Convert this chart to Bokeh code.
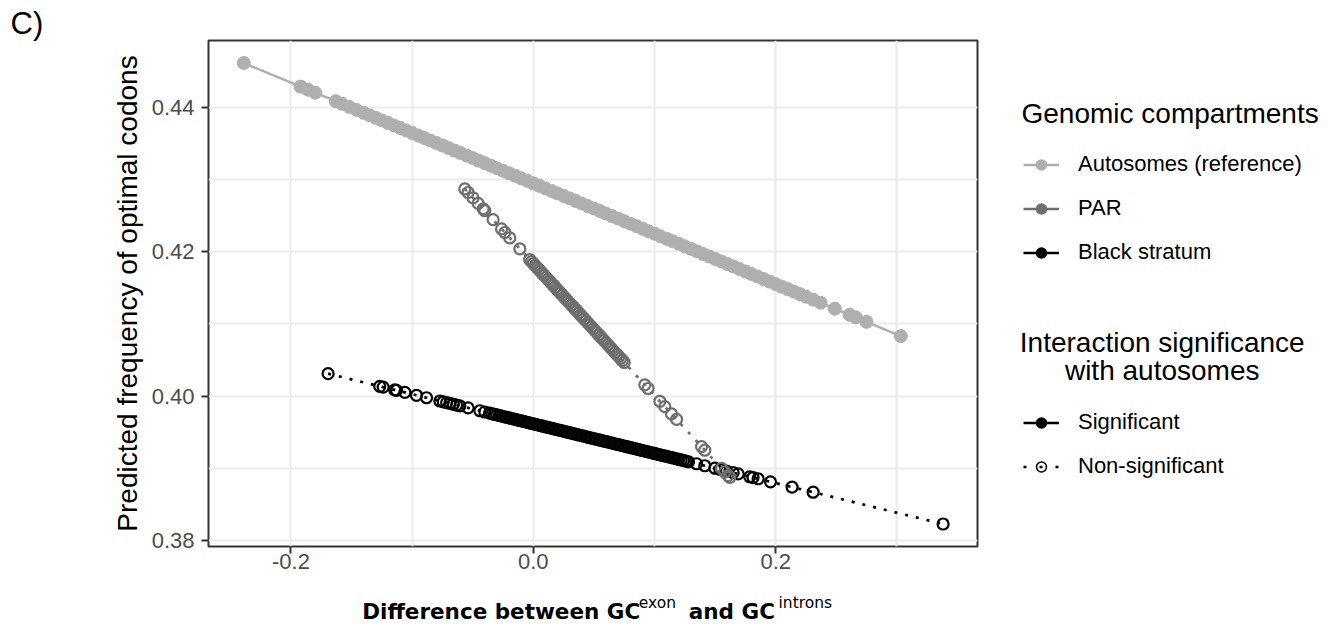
from bokeh.plotting import figure
from bokeh.layouts import row, column
from bokeh.models import Range1d, FixedTicker, PrintfTickFormatter, Label, Legend, LegendItem
from bokeh.embed import file_html
from bokeh.resources import INLINE

# ---------------- data ----------------
auto_x = [-0.2389, -0.192, -0.186, -0.180, -0.163, -0.158, -0.152, -0.146, -0.140, -0.135, -0.130,
          -0.125, -0.120, -0.115, -0.110, -0.105, -0.100, -0.095, -0.090, -0.085, -0.080,
          -0.075, -0.070, -0.065, -0.060, -0.055, -0.050, -0.045, -0.040, -0.035, -0.030,
          -0.025, -0.020, -0.015, -0.010, -0.005, 0.000, 0.005, 0.010, 0.015, 0.020,
          0.025, 0.030, 0.035, 0.040, 0.045, 0.050, 0.055, 0.060, 0.065, 0.070,
          0.075, 0.080, 0.085, 0.090, 0.095, 0.100, 0.105, 0.110, 0.115, 0.120,
          0.125, 0.130, 0.135, 0.140, 0.145, 0.150, 0.155, 0.160, 0.165, 0.170,
          0.175, 0.180, 0.185, 0.190, 0.195, 0.200, 0.205, 0.210, 0.215, 0.220,
          0.225, 0.231, 0.237, 0.2488, 0.261, 0.266, 0.2749, 0.3032]
auto_y = [0.44609, 0.44282, 0.44240, 0.44198, 0.44080, 0.44045, 0.44003, 0.43961, 0.43920, 0.43885, 0.43850,
          0.43815, 0.43780, 0.43745, 0.43711, 0.43676, 0.43641, 0.43606, 0.43571, 0.43536, 0.43502,
          0.43467, 0.43432, 0.43397, 0.43362, 0.43327, 0.43293, 0.43258, 0.43223, 0.43188, 0.43153,
          0.43118, 0.43083, 0.43049, 0.43014, 0.42979, 0.42944, 0.42909, 0.42874, 0.42839, 0.42805,
          0.42770, 0.42735, 0.42700, 0.42665, 0.42630, 0.42596, 0.42561, 0.42526, 0.42491, 0.42456,
          0.42421, 0.42386, 0.42352, 0.42317, 0.42282, 0.42247, 0.42212, 0.42177, 0.42143, 0.42108,
          0.42073, 0.42038, 0.42003, 0.41968, 0.41933, 0.41899, 0.41864, 0.41829, 0.41794, 0.41759,
          0.41724, 0.41690, 0.41655, 0.41620, 0.41585, 0.41550, 0.41515, 0.41481, 0.41446, 0.41411,
          0.41376, 0.41334, 0.41292, 0.41210, 0.41125, 0.41090, 0.41028, 0.40831]

par_x = [-0.0565, -0.0538, -0.0497, -0.0455, -0.0414, -0.0400, -0.0332, -0.0262, -0.0235, -0.0194, -0.0111,
         -0.003, -0.0015, 0.000, 0.0015, 0.003, 0.0045, 0.006, 0.0075, 0.009, 0.0105,
         0.012, 0.0135, 0.015, 0.0165, 0.018, 0.0195, 0.021, 0.0225, 0.024, 0.0255,
         0.027, 0.0285, 0.030, 0.0315, 0.033, 0.0345, 0.036, 0.0375, 0.039, 0.0405,
         0.042, 0.0435, 0.045, 0.0465, 0.048, 0.0495, 0.051, 0.0525, 0.054, 0.0555,
         0.057, 0.0585, 0.060, 0.0615, 0.063, 0.0645, 0.066, 0.0675, 0.069, 0.0705,
         0.072, 0.0735, 0.075,
         0.0920, 0.0947, 0.1044, 0.1085, 0.1140, 0.1182, 0.1388, 0.1415, 0.1553, 0.1580, 0.1607, 0.1621]
par_y = [0.42866, 0.42817, 0.42742, 0.42666, 0.42591, 0.42565, 0.42441, 0.42313, 0.42264, 0.42189, 0.42038,
         0.41890, 0.41862, 0.41835, 0.41808, 0.41780, 0.41753, 0.41725, 0.41698, 0.41671, 0.41643,
         0.41616, 0.41589, 0.41561, 0.41534, 0.41506, 0.41479, 0.41452, 0.41424, 0.41397, 0.41370,
         0.41342, 0.41315, 0.41287, 0.41260, 0.41233, 0.41205, 0.41178, 0.41151, 0.41123, 0.41096,
         0.41068, 0.41041, 0.41014, 0.40986, 0.40959, 0.40931, 0.40904, 0.40877, 0.40849, 0.40822,
         0.40795, 0.40767, 0.40740, 0.40712, 0.40685, 0.40658, 0.40630, 0.40603, 0.40576, 0.40548,
         0.40521, 0.40493, 0.40466,
         0.40156, 0.40106, 0.39929, 0.39855, 0.39754, 0.39678, 0.39302, 0.39252, 0.39000, 0.38951, 0.38902, 0.38876]

blk_x = [-0.1693, -0.1267, -0.1239, -0.1143, -0.1129, -0.1060, -0.0964, -0.0881, -0.0771, -0.0743,
         -0.0715, -0.0688, -0.0660, -0.0633, -0.0606, -0.0538, -0.0441, -0.040,
         -0.036, -0.034, -0.032, -0.030, -0.028, -0.026, -0.024, -0.022, -0.020, -0.018,
         -0.016, -0.014, -0.012, -0.010, -0.008, -0.006, -0.004, -0.002, 0.000, 0.002,
         0.004, 0.006, 0.008, 0.010, 0.012, 0.014, 0.016, 0.018, 0.020, 0.022,
         0.024, 0.026, 0.028, 0.030, 0.032, 0.034, 0.036, 0.038, 0.040, 0.042,
         0.044, 0.046, 0.048, 0.050, 0.052, 0.054, 0.056, 0.058, 0.060, 0.062,
         0.064, 0.066, 0.068, 0.070, 0.072, 0.074, 0.076, 0.078, 0.080, 0.082,
         0.084, 0.086, 0.088, 0.090, 0.092, 0.094, 0.096, 0.098, 0.100, 0.102,
         0.104, 0.106, 0.108, 0.110, 0.112, 0.114, 0.116, 0.118, 0.120, 0.122,
         0.124, 0.126, 0.128,
         0.1347, 0.1415, 0.1498, 0.1539, 0.1594, 0.1649, 0.1690, 0.1786, 0.1813, 0.1855,
         0.1957, 0.2135, 0.2309, 0.3381]
blk_y = [0.40311, 0.40136, 0.40125, 0.40086, 0.40080, 0.40052, 0.40012, 0.39978, 0.39933, 0.39922,
         0.39910, 0.39899, 0.39888, 0.39877, 0.39865, 0.39838, 0.39798, 0.39781,
         0.39765, 0.39756, 0.39748, 0.39740, 0.39732, 0.39724, 0.39715, 0.39707, 0.39699, 0.39691,
         0.39683, 0.39674, 0.39666, 0.39658, 0.39650, 0.39642, 0.39633, 0.39625, 0.39617, 0.39609,
         0.39601, 0.39592, 0.39584, 0.39576, 0.39568, 0.39560, 0.39551, 0.39543, 0.39535, 0.39527,
         0.39519, 0.39510, 0.39502, 0.39494, 0.39486, 0.39478, 0.39469, 0.39461, 0.39453, 0.39445,
         0.39437, 0.39428, 0.39420, 0.39412, 0.39404, 0.39396, 0.39387, 0.39379, 0.39371, 0.39363,
         0.39355, 0.39346, 0.39338, 0.39330, 0.39322, 0.39314, 0.39305, 0.39297, 0.39289, 0.39281,
         0.39273, 0.39264, 0.39256, 0.39248, 0.39240, 0.39232, 0.39224, 0.39215, 0.39207, 0.39199,
         0.39191, 0.39182, 0.39174, 0.39166, 0.39158, 0.39150, 0.39142, 0.39133, 0.39125, 0.39117,
         0.39109, 0.39100, 0.39092,
         0.39065, 0.39037, 0.39003, 0.38986, 0.38964, 0.38941, 0.38924, 0.38885, 0.38874, 0.38857,
         0.38815, 0.38742, 0.38671, 0.38231]

x_ticks = [-0.2, 0.0, 0.2]
x_minor = [-0.1, 0.1, 0.3]
y_ticks = [0.38, 0.40, 0.42, 0.44]
y_minor = [0.39, 0.41, 0.43]

compartments = ["Autosomes (reference)", "PAR", "Black stratum"]
significance = ["Significant", "Non-significant"]

AUTO = "#AFAFAF"
PARC = "#6E6E6E"
BLK = "#000000"
FONT = "Liberation Sans"
NAN = float("nan")


def blank(w, h):
    f = figure(width=w, height=h, x_range=Range1d(0, 1), y_range=Range1d(0, 1),
               output_backend="svg", toolbar_location=None,
               x_axis_type=None, y_axis_type=None, min_border=0)
    f.outline_line_color = None
    f.background_fill_color = "white"
    f.border_fill_color = "white"
    return f


def lab(fig, text, x, y, size, font=FONT, style="normal", align="left", color="#000000"):
    fig.add_layout(Label(x=x, y=y, x_units="screen", y_units="screen", text=text,
                         text_font=font, text_font_size=size, text_font_style=style,
                         text_align=align, text_baseline="alphabetic", text_color=color))


# ---------------- main plot ----------------
p = figure(width=885, height=584, x_range=Range1d(-0.2680, 0.3665), y_range=Range1d(0.3792, 0.4492),
           output_backend="svg", toolbar_location=None,
           min_border_left=108, min_border_right=8, min_border_top=40, min_border_bottom=38)
p.background_fill_color = "white"
p.border_fill_color = "white"
p.outline_line_color = "#333333"
p.outline_line_width = 2

p.xaxis.ticker = FixedTicker(ticks=x_ticks, minor_ticks=x_minor)
p.yaxis.ticker = FixedTicker(ticks=y_ticks, minor_ticks=y_minor)
p.xaxis.formatter = PrintfTickFormatter(format="%.1f")
p.yaxis.formatter = PrintfTickFormatter(format="%.2f")
for ax in (p.xaxis[0], p.yaxis[0]):
    ax.axis_line_color = None
    ax.major_tick_line_color = "#333333"
    ax.major_tick_line_width = 2
    ax.major_tick_out = 7
    ax.major_tick_in = 0
    ax.minor_tick_out = 0
    ax.minor_tick_in = 0
    ax.minor_tick_line_color = None
    ax.major_label_text_font = FONT
    ax.major_label_text_font_size = "22px"
    ax.major_label_text_color = "#4D4D4D"
p.xaxis.major_label_standoff = 0
p.yaxis.major_label_standoff = 7
p.yaxis.axis_label = "Predicted frequency of optimal codons"
p.yaxis.axis_label_text_font = FONT
p.yaxis.axis_label_text_font_size = "28px"
p.yaxis.axis_label_text_font_style = "normal"
p.yaxis.axis_label_text_color = "#000000"
p.yaxis.axis_label_standoff = 6

for g in (p.xgrid[0], p.ygrid[0]):
    g.grid_line_color = "#EBEBEB"
    g.grid_line_width = 2
    g.minor_grid_line_color = "#EBEBEB"
    g.minor_grid_line_width = 2

p.line(auto_x, auto_y, line_color=AUTO, line_width=2.5)
p.line(par_x, par_y, line_color=PARC, line_width=2.7, line_dash="3 8")
p.line(blk_x, blk_y, line_color=BLK, line_width=2.7, line_dash="3 8")
p.scatter(blk_x, blk_y, marker="circle", size=11, fill_color=None, line_color=BLK, line_width=2.2)
p.scatter(par_x, par_y, marker="circle", size=11, fill_color=None, line_color=PARC, line_width=2.2)
p.scatter(auto_x, auto_y, marker="circle", size=13, fill_color=AUTO, line_color=AUTO, line_width=1)

# ---------------- x axis title strip (frame aligned with the main frame) ----------------
bottom = blank(885, 40)
lab(bottom, "Difference between GC", 153.7, 13.5, "21.5px", font="DejaVu Sans", style="bold")
lab(bottom, "exon", 430.3, 22.0, "15.5px", font="DejaVu Sans")
lab(bottom, "and GC", 480.3, 13.5, "21.5px", font="DejaVu Sans", style="bold")
lab(bottom, "introns", 570.0, 22.0, "15.5px", font="DejaVu Sans")

# ---------------- panel tag strip ----------------
left = blank(100, 624)
lab(left, "C)", 10, 601.3, "31px")

# ---------------- legend panel ----------------
lg = blank(345, 624)


def key(color, dash="solid", filled=True):
    ln = lg.line([NAN], [NAN], line_color=color, line_width=2.5, line_dash=dash)
    sc = lg.scatter([NAN], [NAN], marker="circle", fill_color=color if filled else None,
                    line_color=color, line_width=1.6)
    return [ln, sc]


leg_common = dict(orientation="vertical", glyph_width=36, glyph_height=25, label_height=25,
                  padding=0, margin=0, label_standoff=19, label_text_font=FONT,
                  label_text_font_size="22px", label_text_color="#000000",
                  background_fill_alpha=0, border_line_color=None, spacing=18)
leg1 = Legend(items=[LegendItem(label=compartments[0], renderers=key(AUTO)),
                     LegendItem(label=compartments[1], renderers=key(PARC)),
                     LegendItem(label=compartments[2], renderers=key(BLK))],
              location=(38, 359), **leg_common)
leg2 = Legend(items=[LegendItem(label=significance[0], renderers=key(BLK)),
                     LegendItem(label=significance[1], renderers=key(BLK, dash="3 13", filled=False))],
              location=(38, 145), **leg_common)
lg.add_layout(leg1)
lg.add_layout(leg2)
lab(lg, "Genomic compartments", 36, 511.5, "28px")
lab(lg, "Interaction significance", 176.7, 282.5, "28px", align="center")
lab(lg, "with autosomes", 176.7, 254, "28px", align="center")

layout = row(left, column(p, bottom), lg)
open("out.html", "w").write(file_html(layout, INLINE))
